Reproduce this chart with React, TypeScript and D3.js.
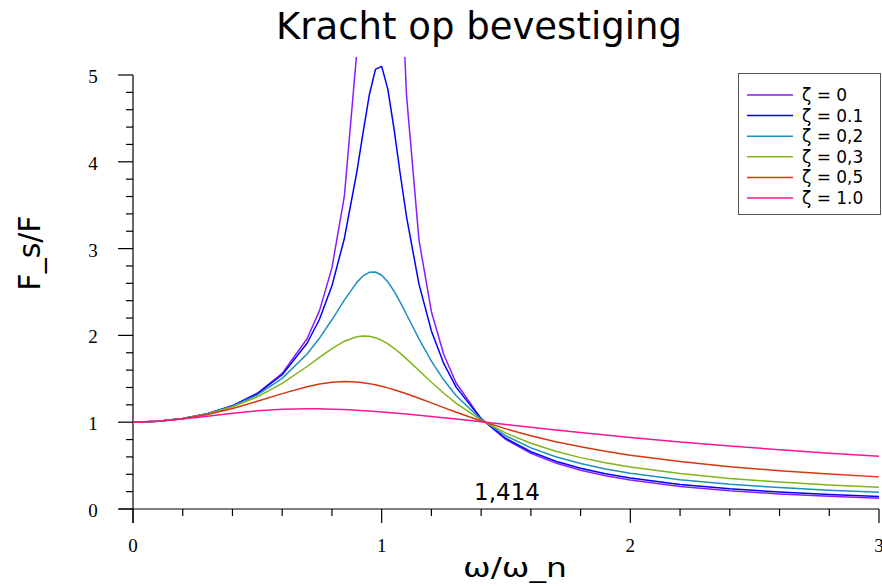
import React from "react";
import * as d3 from "d3";

const ratios = [0, 0.1, 0.2, 0.3, 0.4, 0.5, 0.6, 0.7, 0.75, 0.8, 0.85, 0.9, 0.925, 0.95, 0.975, 1.0, 1.025, 1.05, 1.075, 1.1, 1.15, 1.2, 1.25, 1.3, 1.4, 1.5, 1.6, 1.7, 1.8, 1.9, 2.0, 2.2, 2.4, 2.6, 2.8, 3.0];

const zeta0: (number | null)[] = [1, 1.0101, 1.0417, 1.0989, 1.1905, 1.3333, 1.5625, 1.9608, 2.2857, 2.7778, 3.6036, 5.2632, 6.9264, 10.2564, 20.2532, null, 19.7531, 9.7561, 6.4257, 4.7619, 3.1008, 2.2727, 1.7778, 1.4493, 1.0417, 0.8, 0.641, 0.5291, 0.4464, 0.3831, 0.3333, 0.2604, 0.2101, 0.1736, 0.1462, 0.125];
const zeta01 = [1, 1.0101, 1.0416, 1.0985, 1.1889, 1.3282, 1.5468, 1.9093, 2.1863, 2.5707, 3.1169, 3.8821, 4.3336, 4.7663, 5.0651, 5.099, 4.8342, 4.3727, 3.8538, 3.3666, 2.5904, 2.0519, 1.6745, 1.4013, 1.0385, 0.8122, 0.6593, 0.55, 0.4685, 0.4056, 0.3559, 0.2827, 0.2319, 0.1949, 0.167, 0.1454];
const zeta02 = [1, 1.0101, 1.0414, 1.0973, 1.1843, 1.3138, 1.5046, 1.7849, 1.9681, 2.1799, 2.4066, 2.611, 2.6846, 2.7268, 2.7304, 2.6926, 2.6162, 2.5088, 2.3804, 2.2409, 1.9593, 1.7035, 1.4856, 1.3045, 1.0312, 0.8411, 0.7041, 0.6021, 0.5237, 0.462, 0.4125, 0.3381, 0.2855, 0.2465, 0.2166, 0.1931];
const zeta03 = [1, 1.0101, 1.0411, 1.0954, 1.1772, 1.2925, 1.4474, 1.6417, 1.7472, 1.8487, 1.9334, 1.9853, 1.9943, 1.9905, 1.9734, 1.9437, 1.9025, 1.8517, 1.7935, 1.73, 1.5951, 1.4603, 1.3333, 1.2178, 1.0238, 0.8735, 0.7568, 0.6651, 0.5919, 0.5324, 0.4834, 0.4078, 0.3525, 0.3105, 0.2776, 0.2511];
const zeta05 = [1, 1.01, 1.04, 1.0896, 1.1576, 1.2403, 1.3293, 1.4094, 1.4396, 1.4598, 1.4678, 1.4626, 1.455, 1.4443, 1.4306, 1.4142, 1.3954, 1.3744, 1.3517, 1.3275, 1.276, 1.2221, 1.1678, 1.1144, 1.0135, 0.9233, 0.8443, 0.7759, 0.7166, 0.6651, 0.6202, 0.5461, 0.4877, 0.4408, 0.4023, 0.3701];
const zeta10 = [1, 1.0097, 1.0356, 1.0699, 1.104, 1.1314, 1.1486, 1.1547, 1.1538, 1.1505, 1.145, 1.1376, 1.1333, 1.1286, 1.1235, 1.118, 1.1123, 1.1063, 1.1, 1.0935, 1.0799, 1.0656, 1.0508, 1.0356, 1.0045, 0.973, 0.9417, 0.9111, 0.8812, 0.8524, 0.8246, 0.7726, 0.7253, 0.6824, 0.6435, 0.6083];

const seriesLabels = ["ζ = 0", "ζ = 0.1", "ζ = 0,2", "ζ = 0,3", "ζ = 0,5", "ζ = 1.0"];
const seriesColors = ["#8a1cff", "#0000ff", "#1d8fbd", "#7fb51a", "#d4380f", "#ff1493"];
const xTickLabels = ["0", "1", "2", "3"];
const yTickLabels = ["0", "1", "2", "3", "4", "5"];
const crossLabel = "1,414";
const title = "Kracht op bevestiging";
const xTitle = "ω/ω_n";
const yTitle = "F_s/F";

const allSeries = [zeta0, zeta01, zeta02, zeta03, zeta05, zeta10];

export default function App() {
  const W = 882, H = 586;
  const x = d3.scaleLinear().domain([0, 3]).range([133, 879]);
  const y = d3.scaleLinear().domain([0, 5]).range([509, 75]);
  const line = d3
    .line<number | null>()
    .defined((v) => v != null)
    .x((_, i) => x(ratios[i]))
    .y((v) => y(v as number));

  const minorX = d3.range(0, 3.001, 0.2).filter((v) => Math.abs(v - Math.round(v)) > 1e-6);
  const minorY = d3.range(0, 5.001, 0.2).filter((v) => Math.abs(v - Math.round(v)) > 1e-6);
  const sans = "'DejaVu Sans', Verdana, sans-serif";
  const serif = "'Liberation Serif', 'Times New Roman', serif";

  return (
    <svg width={W} height={H} style={{ position: "absolute", left: 0, top: 0, background: "#fff" }}>
      <defs>
        <clipPath id="plotclip">
          <rect x={133} y={57} width={748} height={452} />
        </clipPath>
      </defs>
      <rect x={0} y={0} width={W} height={H} fill="#fff" />
      <text x={479} y={39} textAnchor="middle" fontFamily={sans} fontSize={37} fill="#000">{title}</text>

      {/* axes */}
      <g stroke="#000" strokeWidth={1.2}>
        <line x1={119} x2={879} y1={509} y2={509} />
        <line x1={133} x2={133} y1={75} y2={523} />
        {xTickLabels.map((_, i) => (
          <line key={"xM" + i} x1={x(i)} x2={x(i)} y1={509} y2={523} />
        ))}
        {minorX.map((v, i) => (
          <line key={"xm" + i} x1={x(v)} x2={x(v)} y1={509} y2={516} />
        ))}
        {yTickLabels.map((_, i) => (
          <line key={"yM" + i} x1={118} x2={133} y1={y(i)} y2={y(i)} />
        ))}
        {minorY.map((v, i) => (
          <line key={"ym" + i} x1={126} x2={133} y1={y(v)} y2={y(v)} />
        ))}
      </g>
      {xTickLabels.map((t, i) => (
        <text key={"xl" + i} x={x(i)} y={552} textAnchor="middle" fontFamily={serif} fontSize={19} fill="#000">{t}</text>
      ))}
      {yTickLabels.map((t, i) => (
        <text key={"yl" + i} x={93} y={y(i) + 8} textAnchor="middle" fontFamily={serif} fontSize={19} fill="#000">{t}</text>
      ))}

      <g clipPath="url(#plotclip)" fill="none" strokeWidth={1.5} strokeLinejoin="round">
        {allSeries.map((s, i) => (
          <path key={"s" + i} d={line(s) || ""} stroke={seriesColors[i]} />
        ))}
      </g>

      <text x={507} y={500} textAnchor="middle" fontFamily={sans} fontSize={23} fill="#000">{crossLabel}</text>
      <text x={515} y={577} textAnchor="middle" fontFamily={sans} fontSize={26} textLength={104} lengthAdjust="spacingAndGlyphs" fill="#000">{xTitle}</text>
      <text transform="translate(40,253) rotate(-90)" textAnchor="middle" fontFamily={sans} fontSize={30} fill="#000">{yTitle}</text>

      {/* legend */}
      <rect x={738.5} y={73.5} width={142} height={141} fill="#fff" stroke="#555" strokeWidth={1} />
      {seriesLabels.map((lab, i) => (
        <g key={"lg" + i}>
          <line x1={747} x2={793} y1={95 + i * 20.6} y2={95 + i * 20.6} stroke={seriesColors[i]} strokeWidth={1.5} />
          <text x={802} y={95 + i * 20.6 + 6} fontFamily={sans} fontSize={17} fill="#000">{lab}</text>
        </g>
      ))}
    </svg>
  );
}
